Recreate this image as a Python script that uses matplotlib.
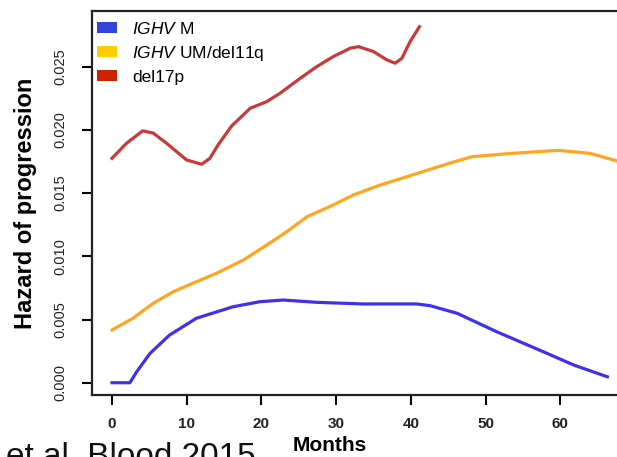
import matplotlib
matplotlib.use("Agg")
import matplotlib.pyplot as plt
from matplotlib.patches import Patch

# Smoothed hazard estimates (months vs hazard of progression)
m_months = [0, 2.4, 3.3, 5.1, 7.7, 11.3, 16.2, 19.8, 22.9, 27.4, 33.6, 40.8, 42.6, 46.2,
            51.5, 58.2, 61.8, 66.3]
m_hazard = [0.0000, 0.0000, 0.00087, 0.00233, 0.00377, 0.0051, 0.00601, 0.00641, 0.00654,
            0.00636, 0.00623, 0.00623, 0.00609, 0.00549, 0.00403, 0.00233, 0.0014, 0.00047]

um_months = [0, 2.8, 5.5, 8.2, 11.3, 14.0, 17.6, 20.7, 23.4, 26.1, 29.6, 32.3, 35.9, 39.5,
             43.0, 45.1, 48.2, 53.5, 59.7, 64.0, 67.6]
um_hazard = [0.00417, 0.0051, 0.00628, 0.0072, 0.00799, 0.00866, 0.00971, 0.01089, 0.01195,
             0.01313, 0.01406, 0.01485, 0.01564, 0.0163, 0.01696, 0.01735, 0.01788, 0.01814,
             0.01838, 0.01814, 0.01754]

d17_months = [0, 1.94, 4.1, 5.5, 7.3, 9.98, 12.0, 13.1, 14.2, 16.0, 18.5, 20.7, 22.5, 25.2,
              27.4, 29.6, 31.9, 33.0, 35.0, 36.8, 37.9, 38.8, 39.9, 41.15]
d17_hazard = [0.01775, 0.01894, 0.01992, 0.01975, 0.01894, 0.01762, 0.01728, 0.01775, 0.01881,
              0.02030, 0.02171, 0.02223, 0.02290, 0.02408, 0.0250, 0.02579, 0.02646, 0.02658,
              0.02619, 0.02553, 0.02527, 0.02566, 0.02698, 0.02816]

legend_labels = [r"$\it{IGHV}$ M", r"$\it{IGHV}$ UM/del11q", "del17p"]
x_ticks = [0, 10, 20, 30, 40, 50, 60]
y_ticks = [0.000, 0.005, 0.010, 0.015, 0.020, 0.025]

plt.rcParams["font.family"] = ["Liberation Sans", "DejaVu Sans"]
plt.rcParams["mathtext.fontset"] = "custom"
plt.rcParams["mathtext.it"] = "Liberation Sans:italic"
plt.rcParams["mathtext.rm"] = "Liberation Sans"

fig = plt.figure(figsize=(6.17, 4.57), dpi=100)
ax = fig.add_axes([92 / 617, 62 / 457, 540 / 617, 384 / 457])

lw = 2.3
ax.plot(m_months, m_hazard, color="#3F30EE", lw=lw, solid_joinstyle="round")
ax.plot(um_months, um_hazard, color="#FFA520", lw=lw, solid_joinstyle="round")
ax.plot(d17_months, d17_hazard, color="#C83A3A", lw=lw, solid_joinstyle="round")

ax.set_xlim(-2.68, 69.6)
ax.set_ylim(-0.00097, 0.0294)

ax.set_xticks(x_ticks)
ax.set_xticklabels([str(v) for v in x_ticks], fontsize=11, fontweight="bold", color="#222222")
ax.set_yticks(y_ticks)
ax.set_yticklabels([f"{v:.3f}" for v in y_ticks], fontsize=10.5, rotation=90, va="center",
                   color="#222222")
ax.tick_params(axis="x", length=7.5, width=1.5, pad=8)
ax.tick_params(axis="y", length=7.5, width=1.5, pad=10)

for side in ["top", "right", "left", "bottom"]:
    ax.spines[side].set_linewidth(1.6)
    ax.spines[side].set_color("#222222")

ax.set_ylabel("Hazard of progression", fontsize=17, fontweight="bold", labelpad=12)
fig.text(330 / 617, 1 - 436 / 457, "Months", fontsize=15, fontweight="bold",
         ha="center", va="top")
fig.text(6 / 617, 1 - 466 / 457, "et al. Blood 2015", fontsize=24, ha="left",
         va="baseline", color="#111111")

handles = [Patch(facecolor="#3344DD"), Patch(facecolor="#FFCC00"), Patch(facecolor="#CC2200")]
ax.legend(handles, legend_labels, loc="upper left", frameon=False, fontsize=12.5,
          handlelength=1.1, handleheight=0.6, handletextpad=0.9, labelspacing=0.4,
          borderaxespad=0.0, borderpad=0.25, bbox_to_anchor=(0.002, 0.985))

fig.savefig("out.png", dpi=100)
